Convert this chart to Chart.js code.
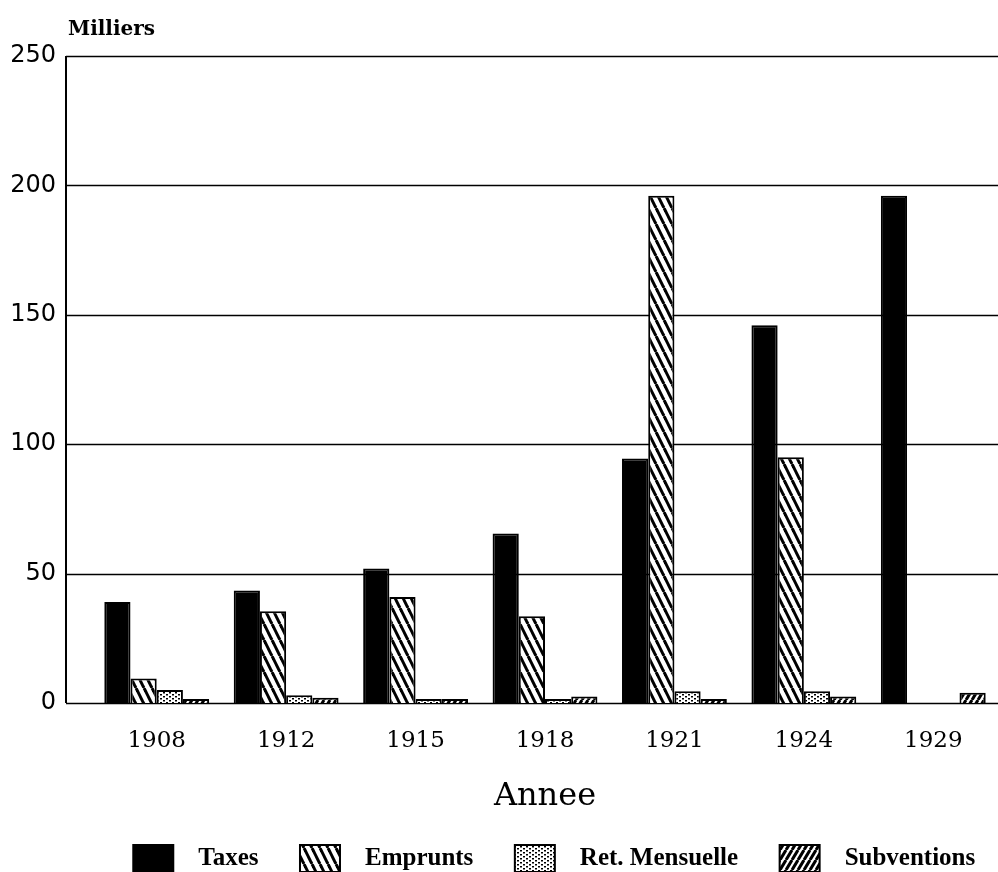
<!DOCTYPE html>
<html>
<head>
<meta charset="utf-8">
<script src="https://cdn.jsdelivr.net/npm/chart.js@4.4.1/dist/chart.umd.min.js"></script>
<style>
  html, body { margin: 0; padding: 0; background: #fff; }
  canvas { display: block; }
</style>
</head>
<body>
<canvas id="budgetChart" width="998" height="872"></canvas>
<script>
// values (thousands)
const years = ['1908', '1912', '1915', '1918', '1921', '1924', '1929'];
const taxes = [39, 43.5, 52, 65.5, 94.5, 146, 196];
const emprunts = [9.5, 35.5, 41, 33.5, 196, 95, 0];
const retMensuelle = [5, 3, 1.5, 1.5, 4.5, 4.5, 0];
const subventions = [1.5, 2, 1.5, 2.5, 1.5, 2.5, 4];
const yTicks = [0, 50, 100, 150, 200, 250];

const canvas = document.getElementById('budgetChart');
const mainCtx = canvas.getContext('2d');

// hatch fills
function stripes(w, h, back, lw) {
    const c = document.createElement('canvas');
    c.width = w; c.height = h;
    const g = c.getContext('2d');
    g.fillStyle = '#fff';
    g.fillRect(0, 0, w, h);
    g.strokeStyle = '#000';
    g.lineWidth = lw;
    for (let k = -1; k <= 1; k++) {
        g.beginPath();
        if (back) { g.moveTo(k * w, 0); g.lineTo(k * w + w, h); }
        else { g.moveTo(k * w + w, 0); g.lineTo(k * w, h); }
        g.stroke();
    }
    return mainCtx.createPattern(c, 'repeat');
}

function dots() {
    const c = document.createElement('canvas');
    c.width = 6; c.height = 4;
    const g = c.getContext('2d');
    g.fillStyle = '#fff';
    g.fillRect(0, 0, 6, 4);
    g.fillStyle = '#000';
    g.fillRect(1, 0, 2, 1.5);
    g.fillRect(4, 2, 2, 1.5);
    return mainCtx.createPattern(c, 'repeat');
}

const AXIS_X = 66;

const paperPlugin = {
    id: 'paper',
    beforeDatasetsDraw(chart) {
        const { ctx, chartArea, scales } = chart;
        const y = scales.y;
        ctx.save();
        ctx.strokeStyle = '#000';
        ctx.lineWidth = 1.5;
        y.ticks.forEach(t => {
            const py = Math.round(y.getPixelForValue(t.value)) + 0.5;
            ctx.beginPath();
            ctx.moveTo(AXIS_X, py);
            ctx.lineTo(chartArea.right, py);
            ctx.stroke();
        });
        ctx.lineWidth = 2;
        ctx.beginPath();
        ctx.moveTo(AXIS_X, chartArea.top);
        ctx.lineTo(AXIS_X, chartArea.bottom);
        ctx.stroke();
        ctx.fillStyle = '#000';
        ctx.font = 'bold 20px "DejaVu Serif"';
        ctx.textBaseline = 'middle';
        ctx.textAlign = 'left';
        ctx.fillText('Milliers', 68, 30);
        ctx.restore();
    }
};

new Chart(canvas, {
    type: 'bar',
    data: {
        labels: years,
        datasets: [
            { label: 'Taxes', data: taxes, backgroundColor: '#000' },
            { label: 'Emprunts', data: emprunts, backgroundColor: stripes(8, 16, true, 3) },
            { label: 'Ret. Mensuelle', data: retMensuelle, backgroundColor: dots() },
            { label: 'Subventions', data: subventions, backgroundColor: stripes(6, 10, false, 3) }
        ].map(d => Object.assign(d, {
            borderColor: '#000',
            borderWidth: 2,
            categoryPercentage: 0.81,
            barPercentage: 1
        }))
    },
    options: {
        responsive: false,
        animation: false,
        events: [],
        layout: { padding: { top: 56, left: 0, right: 0, bottom: -10 } },
        plugins: {
            tooltip: { enabled: false },
            legend: {
                position: 'bottom',
                align: 'end',
                labels: {
                    boxWidth: 40,
                    boxHeight: 27,
                    padding: 4,
                    color: '#000',
                    font: { family: '"Liberation Serif"', size: 25, weight: 'bold' },
                    generateLabels(chart) {
                        const items = Chart.defaults.plugins.legend.labels.generateLabels(chart);
                        items.forEach((it, i) => {
                            const tail = i < items.length - 1 ? '      ' : '   ';
                            it.text = '  ' + it.text + tail;
                        });
                        return items;
                    }
                }
            }
        },
        scales: {
            x: {
                offset: true,
                grid: { display: false },
                border: { display: false },
                ticks: {
                    color: '#000',
                    padding: 16,
                    maxRotation: 0,
                    autoSkip: false,
                    font: { family: '"DejaVu Serif"', size: 23 }
                },
                title: {
                    display: true,
                    text: 'Annee',
                    color: '#000',
                    font: { family: '"DejaVu Serif"', size: 32 },
                    padding: { top: 7, bottom: 25 }
                }
            },
            y: {
                min: 0,
                max: 250,
                grid: { display: false },
                border: { display: false },
                afterBuildTicks(scale) {
                    scale.ticks = yTicks.map(v => ({ value: v }));
                },
                afterFit(scale) {
                    scale.width = 92;
                },
                ticks: {
                    color: '#000',
                    padding: 28,
                    font: { family: '"DejaVu Sans"', size: 24 }
                }
            }
        }
    },
    plugins: [paperPlugin]
});
</script>
</body>
</html>
